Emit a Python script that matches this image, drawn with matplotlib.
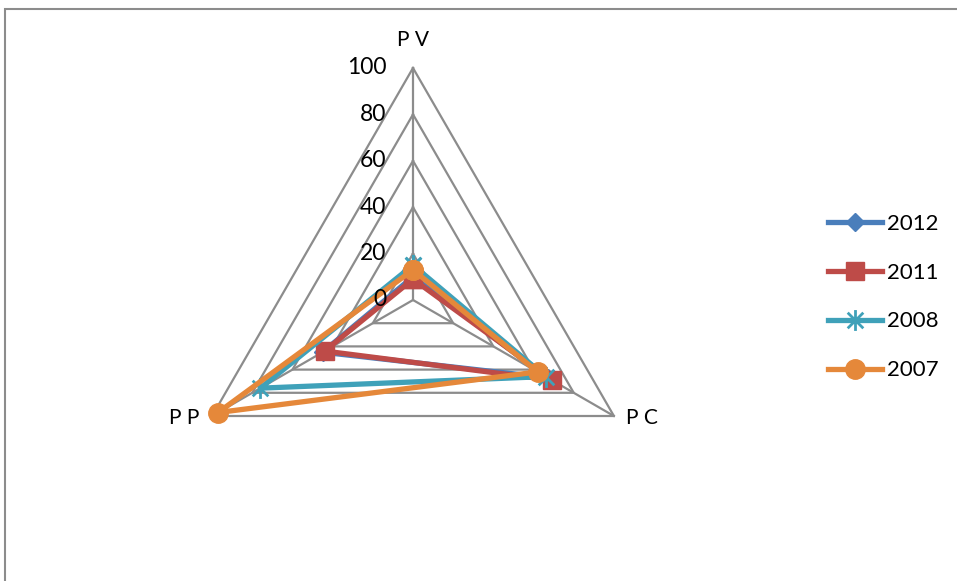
import numpy as np
import matplotlib.pyplot as plt
from matplotlib.patches import Rectangle
from matplotlib.path import Path

# categories (clockwise from top) and series values
categories = ['P V', 'P C', 'P P']
years = ['2012', '2011', '2008', '2007']
v2012 = [10, 67, 45]
v2011 = [9, 69, 44]
v2008 = [15, 66, 76]
v2007 = [13, 62, 97]
ticks = [0, 20, 40, 60, 80, 100]

# Excel-style star: an X with a vertical stroke
star = Path([(0, -1), (0, 1), (-0.75, -0.75), (0.75, 0.75), (-0.75, 0.75), (0.75, -0.75)],
            [Path.MOVETO, Path.LINETO] * 3)

colors = ['#4A7EBB', '#BE4B48', '#3FA1B9', '#E5883A']
markers = ['D', 's', star, 'o']
msizes = [9, 13, 15, 14]

plt.rcParams['font.family'] = ['Lato', 'DejaVu Sans']

W, H = 957, 581
fig = plt.figure(figsize=(W / 100, H / 100), dpi=100)
ax = fig.add_axes([0, 0, 1, 1])

# center at pixel (413, 300), 100 units = 232 px
cx, cy, s = 413, 300, 2.32
ax.set_xlim(-cx / s, (W - cx) / s)
ax.set_ylim(-(H - cy) / s, cy / s)
ax.axis('off')

theta = np.pi / 2 - np.arange(3) * 2 * np.pi / 3
ux, uy = np.cos(theta), np.sin(theta)

# grid triangles and spokes
for t in ticks[1:]:
    ax.plot(np.append(ux, ux[0]) * t, np.append(uy, uy[0]) * t,
            color='#8C8C8C', lw=1.6, zorder=1)
for i in range(3):
    ax.plot([0, ux[i] * 100], [0, uy[i] * 100], color='#8C8C8C', lw=1.6, zorder=1)

# value labels sit on top of the series lines
for t in ticks:
    ax.text(-11.5, t, str(t), ha='right', va='center', fontsize=16.5, zorder=5)

label_pos = [(0, 112), (98.5, -51), (-98.5, -51)]
for lab, (lx, ly) in zip(categories, label_pos):
    ax.text(lx, ly, lab, ha='center', va='center', fontsize=15)

series = [v2012, v2011, v2008, v2007]
for vals, yr, c, m, ms in zip(series, years, colors, markers, msizes):
    v = np.array(vals, dtype=float)
    x = np.append(v * ux, v[0] * ux[0])
    y = np.append(v * uy, v[0] * uy[0])
    ax.plot(x, y, color=c, lw=3.8, marker=m, markersize=ms,
            markeredgecolor=c, markeredgewidth=2 if m is star else 1,
            label=yr, zorder=3, solid_joinstyle='round')

fig.legend(loc='center left', bbox_to_anchor=(828 / W, 1 - 297 / H),
           frameon=False, fontsize=16, handlelength=2.43, handletextpad=0.22,
           labelspacing=1.3, borderpad=0, borderaxespad=0, numpoints=1)

fig.patches.append(Rectangle((4.5 / W, -0.1), 1.2, 1.1 - 9.5 / H, fill=False,
                             edgecolor='#8C8C8C', lw=1.5,
                             transform=fig.transFigure, figure=fig))

fig.savefig('out.png', dpi=100)
